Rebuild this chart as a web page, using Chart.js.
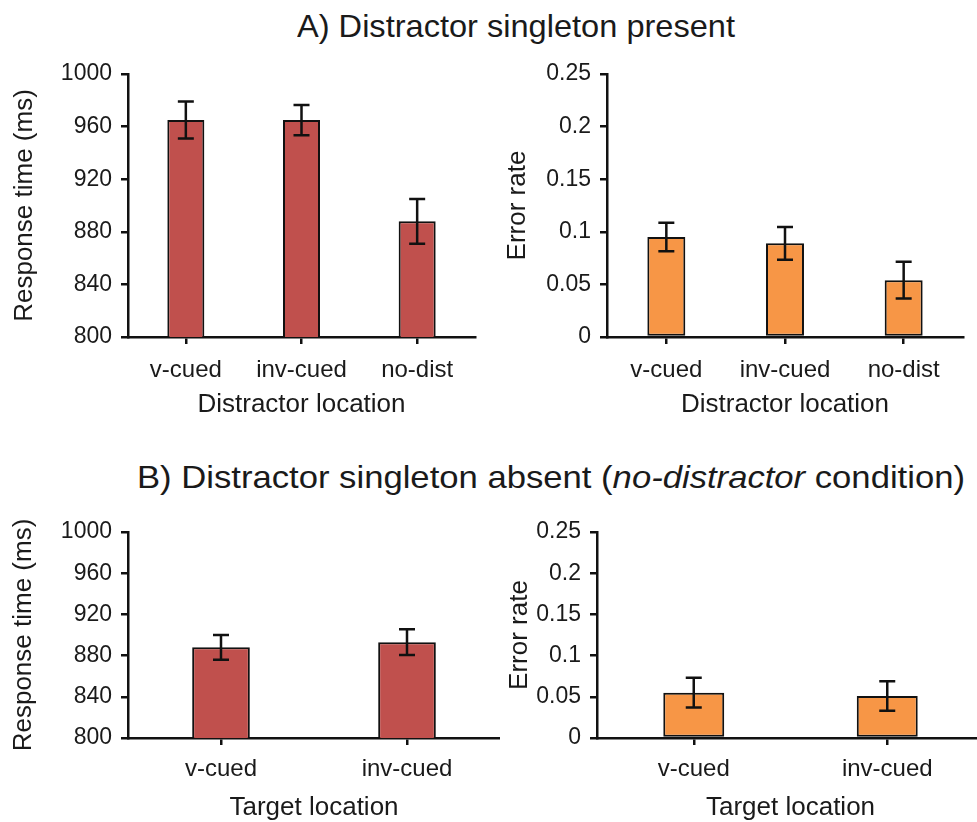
<!DOCTYPE html>
<html>
<head>
<meta charset="utf-8">
<script src="https://cdn.jsdelivr.net/npm/chart.js@4.4.1/dist/chart.umd.min.js"></script>
<style>
  html, body { margin: 0; padding: 0; background: #fff; overflow: hidden; }
  body { width: 977px; height: 822px; position: relative; font-family: "Liberation Sans", Arial, sans-serif; color: #1a1a1a; }
  .panel { position: absolute; }
  .title { position: absolute; white-space: nowrap; font-size: 32px; line-height: 1; transform-origin: 0 0; }
</style>
</head>
<body>

<div class="title" id="titleA">A) Distractor singleton present</div>
<div class="title" id="titleB">B) Distractor singleton absent (<i>no-distractor</i> condition)</div>

<div class="panel" style="left:0;top:50px"><canvas id="rtPresent" width="490" height="370"></canvas></div>
<div class="panel" style="left:490px;top:50px"><canvas id="errPresent" width="487" height="370"></canvas></div>
<div class="panel" style="left:0;top:500px"><canvas id="rtAbsent" width="500" height="322"></canvas></div>
<div class="panel" style="left:500px;top:500px"><canvas id="errAbsent" width="490" height="322"></canvas></div>

<script>
// data
const distractorLabels = ['v-cued', 'inv-cued', 'no-dist'];
const targetLabels = ['v-cued', 'inv-cued'];

const rtPresent = [965, 965, 888];
const rtPresentErr = [14, 11.5, 17];
const errPresent = [0.095, 0.089, 0.054];
const errPresentErr = [0.0135, 0.0155, 0.0175];

const rtAbsent = [888, 893];
const rtAbsentErr = [12, 12.5];
const errAbsent = [0.055, 0.051];
const errAbsentErr = [0.018, 0.018];

const RED = '#C0504D';
const ORANGE = '#F79646';
const FONT = '"Liberation Sans", Arial, sans-serif';

// fit the titles to the width they take in the figure
function placeTitle(id, left, baseline, width) {
  const el = document.getElementById(id);
  const w = el.getBoundingClientRect().width;
  el.style.left = left + 'px';
  el.style.top = (baseline - 26) + 'px';
  el.style.transform = 'scaleX(' + (width / w) + ')';
}
placeTitle('titleA', 297, 36, 438);
placeTitle('titleB', 137, 487, 828);

// error bars drawn through the y scale
const errorBars = {
  id: 'errorBars',
  afterDatasetsDraw(chart) {
    const ctx = chart.ctx;
    const y = chart.scales.y;
    chart.data.datasets.forEach((ds, i) => {
      const meta = chart.getDatasetMeta(i);
      meta.data.forEach((bar, j) => {
        const v = ds.data[j], e = ds.errors[j];
        const top = y.getPixelForValue(v + e);
        const bot = y.getPixelForValue(v - e);
        const half = 8;
        ctx.save();
        ctx.strokeStyle = '#111';
        ctx.lineWidth = 2.5;
        ctx.beginPath();
        ctx.moveTo(bar.x, top); ctx.lineTo(bar.x, bot);
        ctx.moveTo(bar.x - half, top); ctx.lineTo(bar.x + half, top);
        ctx.moveTo(bar.x - half, bot); ctx.lineTo(bar.x + half, bot);
        ctx.stroke();
        ctx.restore();
      });
    });
  }
};

function makeChart(id, cfg) {
  new Chart(document.getElementById(id), {
    type: 'bar',
    data: {
      labels: cfg.labels,
      datasets: [{
        data: cfg.values,
        errors: cfg.errors,
        backgroundColor: cfg.color,
        borderColor: '#111',
        borderWidth: 2,
        borderSkipped: false,
        categoryPercentage: 1,
        barPercentage: cfg.barPct
      }]
    },
    options: {
      responsive: false,
      animation: false,
      layout: { padding: cfg.pad },
      plugins: { legend: { display: false }, tooltip: { enabled: false } },
      scales: {
        x: {
          grid: { offset: false, drawOnChartArea: false, color: '#111', lineWidth: 2.5, tickLength: 7 },
          border: { color: '#111', width: 2.5 },
          ticks: { color: '#1a1a1a', font: { family: FONT, size: 24 }, padding: cfg.labelPad, maxRotation: 0 },
          title: { display: true, text: cfg.xTitle, color: '#1a1a1a',
                   font: { family: FONT, size: 26, lineHeight: 1.2 }, padding: { top: 0, bottom: cfg.xTitlePad } },
          afterFit(scale) { scale.height = cfg.xHeight; }
        },
        y: {
          min: cfg.min, max: cfg.max,
          grid: { drawOnChartArea: false, color: '#111', lineWidth: 2.5, tickLength: 7 },
          border: { color: '#111', width: 2.5 },
          ticks: { stepSize: cfg.step, color: '#1a1a1a', font: { family: FONT, size: 23 }, padding: 9,
                   callback: v => String(+v.toFixed(2)) },
          title: { display: true, text: cfg.yTitle, color: '#1a1a1a',
                   font: { family: FONT, size: 26, lineHeight: 1.2 }, padding: { top: cfg.yTitlePad, bottom: 0 } },
          afterFit(scale) { scale.width = cfg.yWidth; }
        }
      }
    },
    plugins: [errorBars]
  });
}

makeChart('rtPresent', {
  labels: distractorLabels, values: rtPresent, errors: rtPresentErr, color: RED, barPct: 0.32,
  min: 800, max: 1000, step: 40, yTitle: 'Response time (ms)', xTitle: 'Distractor location',
  pad: { left: 0, top: 24, right: 15, bottom: 0 }, yWidth: 128, xHeight: 83, xTitlePad: 0, yTitlePad: 9.4, labelPad: 12
});
makeChart('errPresent', {
  labels: distractorLabels, values: errPresent, errors: errPresentErr, color: ORANGE, barPct: 0.32,
  min: 0, max: 0.25, step: 0.05, yTitle: 'Error rate', xTitle: 'Distractor location',
  pad: { left: 0, top: 24, right: 14, bottom: 0 }, yWidth: 117, xHeight: 83, xTitlePad: 0, yTitlePad: 12.4, labelPad: 12
});
makeChart('rtAbsent', {
  labels: targetLabels, values: rtAbsent, errors: rtAbsentErr, color: RED, barPct: 0.31,
  min: 800, max: 1000, step: 40, yTitle: 'Response time (ms)', xTitle: 'Target location',
  pad: { left: 0, top: 32, right: 0, bottom: 0 }, yWidth: 128, xHeight: 84, xTitlePad: -1.5, yTitlePad: 8.4, labelPad: 10
});
makeChart('errAbsent', {
  labels: targetLabels, values: errAbsent, errors: errAbsentErr, color: ORANGE, barPct: 0.315,
  min: 0, max: 0.25, step: 0.05, yTitle: 'Error rate', xTitle: 'Target location',
  pad: { left: 0, top: 32, right: 6, bottom: 0 }, yWidth: 97, xHeight: 84, xTitlePad: -1.5, yTitlePad: 4.4, labelPad: 10
});
</script>
</body>
</html>
